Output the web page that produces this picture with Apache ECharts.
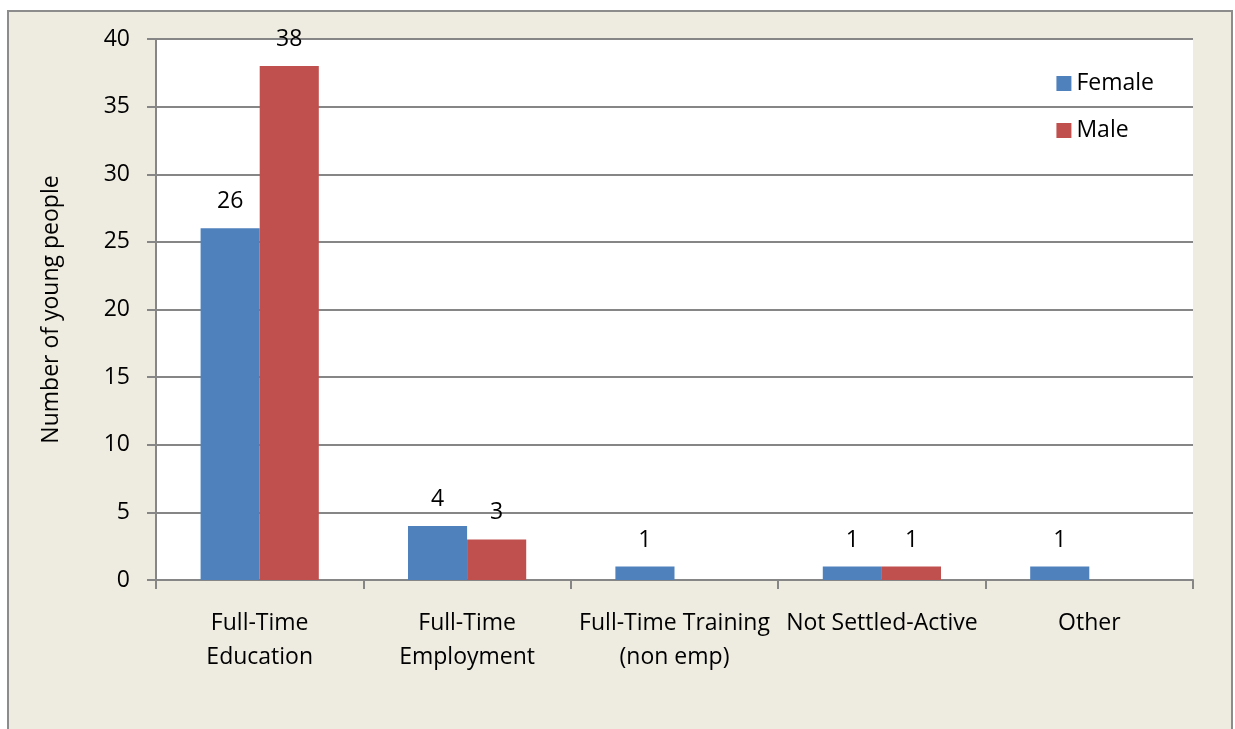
<!DOCTYPE html>
<html>
<head>
<meta charset="utf-8">
<script src="https://cdn.jsdelivr.net/npm/echarts@6/dist/echarts.min.js"></script>
<style>
  html, body { margin: 0; padding: 0; background: #fff; }
  #chart { width: 1235px; height: 729px; }
</style>
</head>
<body>
<div id="chart"></div>
<script>
const categories = ["Full-Time\nEducation", "Full-Time\nEmployment", "Full-Time Training\n(non emp)", "Not Settled-Active", "Other"];
const female = [26, 4, 1, 1, 1];
const male = [38, 3, null, 1, null];
const yTicks = { min: 0, max: 40, interval: 5 };

const chart = echarts.init(document.getElementById("chart"));
const font = "'Open Sans', sans-serif";
const fs = 23;

const option = {
  backgroundColor: "#fff",
  animation: false,
  textStyle: { fontFamily: font },
  graphic: [
    {
      type: "rect",
      z: -10,
      shape: { x: 8, y: 11, width: 1224, height: 730 },
      style: { fill: "#EEECE1", stroke: "#8c8c8c", lineWidth: 2 }
    }
  ],
  legend: {
    orient: "vertical",
    right: 76,
    top: 67,
    itemWidth: 15,
    itemHeight: 15,
    itemGap: 24,
    icon: "rect",
    textStyle: { fontSize: fs, color: "#000", fontFamily: font },
    data: ["Female", "Male"]
  },
  grid: {
    left: 156,
    right: 42,
    top: 39,
    bottom: 149,
    show: true,
    backgroundColor: "#fff",
    borderWidth: 0
  },
  xAxis: {
    type: "category",
    data: categories,
    axisLine: { lineStyle: { color: "#868686", width: 2 } },
    axisTick: { show: true, length: 9, lineStyle: { color: "#868686", width: 2 } },
    axisLabel: { color: "#000", fontSize: fs, lineHeight: 34, margin: 26, fontFamily: font, interval: 0 }
  },
  yAxis: {
    type: "value",
    min: yTicks.min,
    max: yTicks.max,
    interval: yTicks.interval,
    name: "Number of young people",
    nameLocation: "middle",
    nameGap: 93,
    nameRotate: 90,
    nameTextStyle: { color: "#000", fontSize: fs, fontFamily: font },
    axisLine: { show: true, lineStyle: { color: "#868686", width: 2 } },
    axisTick: { show: true, inside: false, length: 9, lineStyle: { color: "#868686", width: 2 } },
    axisLabel: { color: "#000", fontSize: fs, margin: 26, fontFamily: font },
    splitLine: { lineStyle: { color: "#868686", width: 2 } }
  },
  series: [
    {
      name: "Female",
      type: "bar",
      data: female,
      barGap: "0%",
      barCategoryGap: "43%",
      itemStyle: { color: "#4F81BD" },
      label: { show: true, position: "top", distance: 15, color: "#000", fontSize: fs, fontFamily: font }
    },
    {
      name: "Male",
      type: "bar",
      data: male,
      itemStyle: { color: "#C0504D" },
      label: { show: true, position: "top", distance: 15, color: "#000", fontSize: fs, fontFamily: font }
    }
  ]
};

chart.setOption(option);
</script>
</body>
</html>
